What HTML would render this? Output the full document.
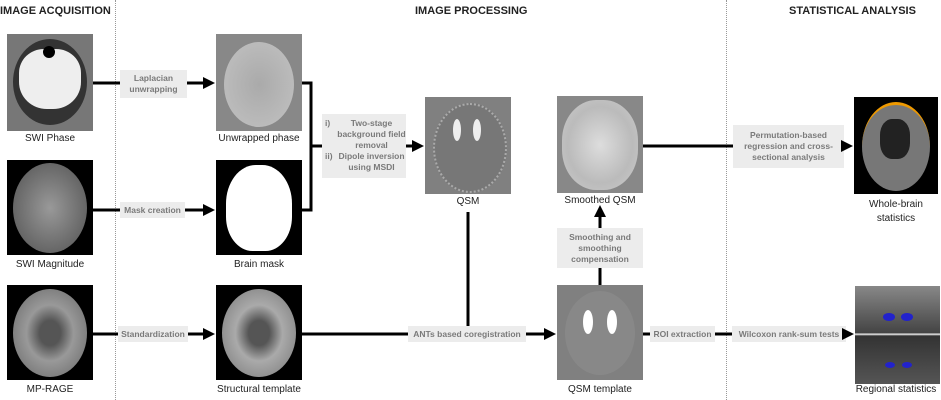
<!DOCTYPE html>
<html><head><meta charset="utf-8"><style>
body{margin:0;width:941px;height:400px;background:#fff;position:relative;overflow:hidden;font-family:"Liberation Sans",sans-serif}
.a{position:absolute}
.h{position:absolute;top:5px;font-weight:bold;font-size:11px;color:#222;white-space:nowrap}
.lb{position:absolute;font-size:10px;color:#222;text-align:center;white-space:nowrap}
.bx{position:absolute;background:#ececec;color:#7a7a7a;font-size:8.5px;text-align:center;display:flex;align-items:center;justify-content:center;line-height:11px;font-weight:bold;white-space:nowrap}
.img{position:absolute;overflow:hidden}
</style></head><body>
<div class="h" style="left:0px">IMAGE ACQUISITION</div>
<div class="h" style="left:415px">IMAGE PROCESSING</div>
<div class="h" style="left:789px">STATISTICAL ANALYSIS</div>
<div class="a" style="left:115px;top:0;height:400px;border-left:1px dotted #999"></div>
<div class="a" style="left:726px;top:0;height:400px;border-left:1px dotted #999"></div>

<div class="img" style="left:7px;top:34px;width:86px;height:97px;background:#777"><div class="a" style="left:6px;top:5px;width:74px;height:86px;border-radius:50%;background:#333"></div><div class="a" style="left:12px;top:15px;width:62px;height:60px;border-radius:40% 40% 45% 45%;background:#eee"></div><div class="a" style="left:36px;top:12px;width:12px;height:12px;border-radius:50%;background:#000"></div></div>
<div class="img" style="left:7px;top:160px;width:86px;height:95px;background:#000"><div class="a" style="left:6px;top:3px;width:74px;height:90px;border-radius:50%;background:radial-gradient(#999,#666 70%,#bbb 90%)"></div></div>
<div class="img" style="left:7px;top:285px;width:86px;height:95px;background:#000"><div class="a" style="left:6px;top:4px;width:74px;height:88px;border-radius:50%;background:radial-gradient(#555 20%,#999 45%,#777 80%,#ccc 92%)"></div></div>

<div class="img" style="left:216px;top:34px;width:86px;height:97px;background:#888"><div class="a" style="left:8px;top:8px;width:70px;height:85px;border-radius:50%;background:radial-gradient(#aaa,#bbb 70%,#ddd)"></div></div>
<div class="img" style="left:216px;top:160px;width:86px;height:95px;background:#000"><div class="a" style="left:10px;top:5px;width:66px;height:86px;border-radius:45% 45% 40% 40%;background:#fff"></div></div>
<div class="img" style="left:216px;top:285px;width:86px;height:95px;background:#000"><div class="a" style="left:6px;top:4px;width:74px;height:88px;border-radius:50%;background:radial-gradient(#555 20%,#aaa 45%,#888 80%,#ccc 92%)"></div></div>

<div class="img" style="left:425px;top:97px;width:86px;height:97px;background:#808080"><div class="a" style="left:8px;top:6px;width:70px;height:86px;border-radius:50%;background:#777;border:2px dotted #aaa"></div><div class="a" style="left:28px;top:22px;width:8px;height:22px;border-radius:50%;background:#eee"></div><div class="a" style="left:48px;top:22px;width:8px;height:22px;border-radius:50%;background:#eee"></div></div>
<div class="img" style="left:557px;top:96px;width:86px;height:97px;background:#888"><div class="a" style="left:5px;top:4px;width:76px;height:90px;border-radius:45%;background:radial-gradient(#ddd,#bbb 60%,#ccc)"></div></div>
<div class="img" style="left:557px;top:285px;width:86px;height:95px;background:#808080"><div class="a" style="left:8px;top:6px;width:70px;height:84px;border-radius:50%;background:#888"></div><div class="a" style="left:26px;top:25px;width:10px;height:24px;border-radius:50%;background:#fff"></div><div class="a" style="left:50px;top:25px;width:10px;height:24px;border-radius:50%;background:#fff"></div></div>

<div class="img" style="left:854px;top:97px;width:84px;height:97px;background:#000"><div class="a" style="left:8px;top:5px;width:68px;height:86px;border-radius:50%;background:#777;border-top:3px solid #e90"></div><div class="a" style="left:26px;top:22px;width:30px;height:40px;background:#222;border-radius:40%"></div></div>
<div class="img" style="left:855px;top:286px;width:85px;height:98px;background:linear-gradient(#888,#444 48%,#fff 49%,#333 51%,#555)"><div class="a" style="left:28px;top:27px;width:12px;height:8px;border-radius:50%;background:#22c"></div><div class="a" style="left:46px;top:27px;width:12px;height:8px;border-radius:50%;background:#22c"></div><div class="a" style="left:30px;top:76px;width:10px;height:6px;border-radius:50%;background:#22c"></div><div class="a" style="left:47px;top:76px;width:10px;height:6px;border-radius:50%;background:#22c"></div></div>

<div class="lb" style="left:0;width:100px;top:133px">SWI Phase</div>
<div class="lb" style="left:0;width:100px;top:259px">SWI Magnitude</div>
<div class="lb" style="left:0;width:100px;top:384px">MP-RAGE</div>
<div class="lb" style="left:209px;width:100px;top:133px">Unwrapped phase</div>
<div class="lb" style="left:209px;width:100px;top:259px">Brain mask</div>
<div class="lb" style="left:209px;width:100px;top:384px">Structural template</div>
<div class="lb" style="left:418px;width:100px;top:196px">QSM</div>
<div class="lb" style="left:550px;width:100px;top:195px">Smoothed QSM</div>
<div class="lb" style="left:550px;width:100px;top:384px">QSM template</div>
<div class="lb" style="left:846px;width:100px;top:198px;line-height:14px;white-space:normal">Whole-brain<br>statistics</div>
<div class="lb" style="left:846px;width:100px;top:384px">Regional statistics</div>

<div class="bx" style="left:120px;top:70px;width:67px;height:28px">Laplacian<br>unwrapping</div>
<div class="bx" style="left:120px;top:202px;width:65px;height:16px">Mask creation</div>
<div class="bx" style="left:118px;top:326px;width:70px;height:16px">Standardization</div>
<div class="bx" style="left:322px;top:114px;width:84px;height:64px;text-align:left;display:block;padding-top:4px;box-sizing:border-box">
<div style="display:flex"><span style="width:12px;padding-left:3px">i)</span><span style="flex:1;text-align:center">Two-stage<br>background field<br>removal</span></div>
<div style="display:flex"><span style="width:12px;padding-left:3px">ii)</span><span style="flex:1;text-align:center">Dipole inversion<br>using MSDI</span></div></div>
<div class="bx" style="left:408px;top:326px;width:118px;height:16px">ANTs based coregistration</div>
<div class="bx" style="left:557px;top:228px;width:86px;height:40px">Smoothing and<br>smoothing<br>compensation</div>
<div class="bx" style="left:650px;top:326px;width:65px;height:16px">ROI extraction</div>
<div class="bx" style="left:732px;top:326px;width:114px;height:16px">Wilcoxon rank-sum tests</div>
<div class="bx" style="left:733px;top:125px;width:111px;height:43px">Permutation-based<br>regression and cross-<br>sectional analysis</div>

<svg class="a" style="left:0;top:0" width="941" height="400">
<defs><marker id="m" markerWidth="4" markerHeight="4" refX="3" refY="2" orient="auto" markerUnits="strokeWidth"><path d="M0,0L4,2L0,4z" fill="#000"/></marker></defs>
<g stroke="#000" stroke-width="3" fill="none">
<path d="M93 83H120"/><path d="M187 83H212" marker-end="url(#m)"/>
<path d="M93 210H120"/><path d="M185 210H212" marker-end="url(#m)"/>
<path d="M93 334H118"/><path d="M188 334H212" marker-end="url(#m)"/>
<path d="M302 83H311V210H302"/><path d="M311 146H322"/><path d="M406 146H421" marker-end="url(#m)"/>
<path d="M302 334H408"/><path d="M468 212V326"/><path d="M526 334H553" marker-end="url(#m)"/>
<path d="M600 285V268"/><path d="M600 228V208" marker-end="url(#m)"/>
<path d="M643 146H733"/><path d="M844 146H850" marker-end="url(#m)"/>
<path d="M643 334H650"/><path d="M715 334H732"/><path d="M846 334H851" marker-end="url(#m)"/>
</g></svg>
</body></html>
